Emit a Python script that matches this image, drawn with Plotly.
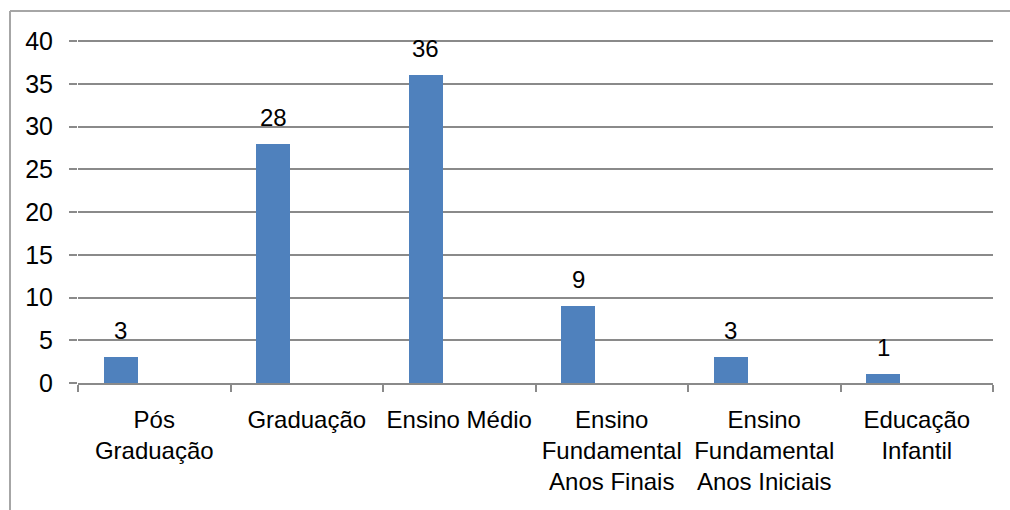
import plotly.graph_objects as go

categories = ["Pós<br>Graduação", "Graduação", "Ensino Médio",
              "Ensino<br>Fundamental<br>Anos Finais",
              "Ensino<br>Fundamental<br>Anos Iniciais",
              "Educação<br>Infantil"]
values = [3, 28, 36, 9, 3, 1]
y_ticks = [0, 5, 10, 15, 20, 25, 30, 35, 40]

FONT = "Liberation Sans, Arial, sans-serif"
GRID = "#8a8a8a"

fig = go.Figure()
fig.add_trace(go.Bar(
    x=categories, y=values,
    marker=dict(color="#4f81bd", line=dict(width=0)),
    width=0.223, offset=-0.33,
    cliponaxis=False,
))

L, R, T, B = 78, 17, 40, 127
W, H = 1010, 510
pw = W - L - R
ph = H - T - B

for c, v in zip(categories, values):
    fig.add_annotation(x=c, y=v, text=str(v), showarrow=False,
                       xanchor="center", yanchor="bottom",
                       xshift=-33.5, yshift=11,
                       font=dict(family=FONT, size=24, color="black"))

fig.update_layout(
    width=W, height=H,
    margin=dict(l=L, r=R, t=T, b=B, pad=0),
    paper_bgcolor="white", plot_bgcolor="white",
    showlegend=False,
    font=dict(family=FONT, size=24, color="black"),
    bargap=0,
    xaxis=dict(
        type="category", tickson="boundaries",
        showline=True, linecolor=GRID, linewidth=2,
        ticks="outside", ticklen=7, tickcolor=GRID, tickwidth=2,
        showgrid=False, tickangle=0,
        ticklabelstandoff=14,
        tickfont=dict(family=FONT, size=24, color="black"),
    ),
    yaxis=dict(
        range=[0, 40.12], tickvals=y_ticks,
        showgrid=True, gridcolor=GRID, gridwidth=2,
        showline=False, zeroline=False,
        ticks="outside", ticklen=8, tickcolor=GRID, tickwidth=2,
        ticklabelstandoff=11,
        tickfont=dict(family=FONT, size=25, color="black"),
    ),
)

# outer chart border (left and top edges visible)
def px_to_paper_x(px):
    return (px - L) / pw

def px_to_paper_y(py):
    return (H - B - py) / ph

fig.add_shape(type="line", xref="paper", yref="paper",
              x0=px_to_paper_x(10), x1=px_to_paper_x(10),
              y0=px_to_paper_y(11), y1=px_to_paper_y(520),
              line=dict(color="#a6a6a6", width=2))
fig.add_shape(type="line", xref="paper", yref="paper",
              x0=px_to_paper_x(10), x1=px_to_paper_x(1020),
              y0=px_to_paper_y(11), y1=px_to_paper_y(11),
              line=dict(color="#a6a6a6", width=2))

fig.write_html("out.html")
